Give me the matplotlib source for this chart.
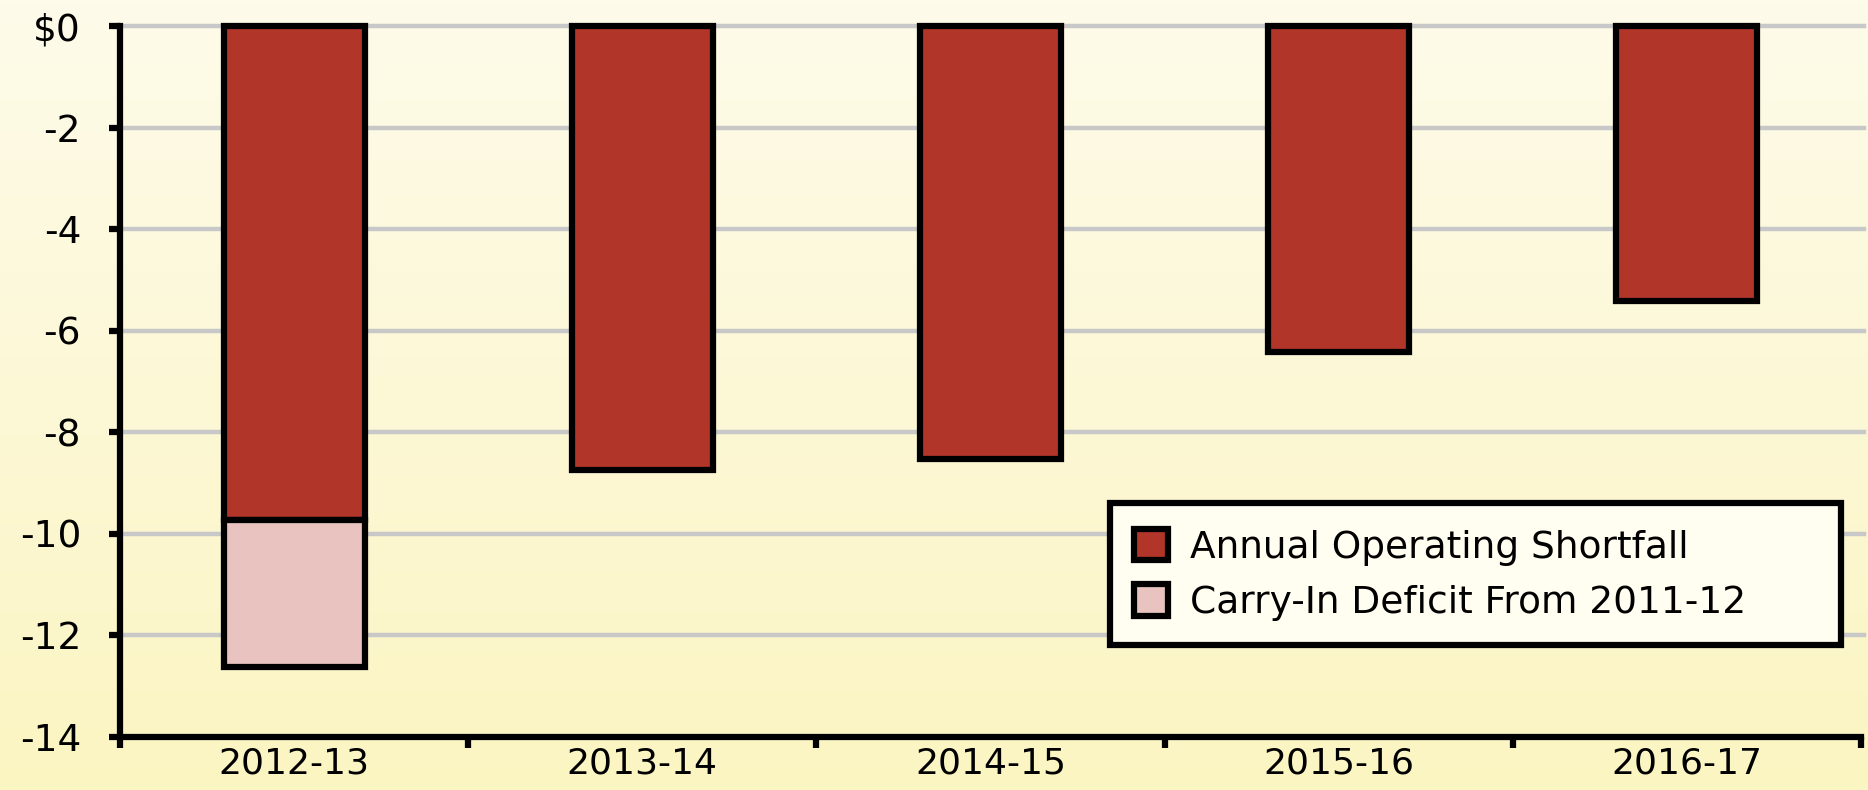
import matplotlib
matplotlib.use("Agg")
import matplotlib.pyplot as plt
import numpy as np
from matplotlib.patches import Rectangle, Patch

categories = ["2012-13", "2013-14", "2014-15", "2015-16", "2016-17"]
annual_shortfall = [-9.72, -8.75, -8.52, -6.42, -5.41]
carry_in = [-2.9, 0, 0, 0, 0]
ytick_vals = [0, -2, -4, -6, -8, -10, -12, -14]
ytick_labels = ["\\$0", "-2", "-4", "-6", "-8", "-10", "-12", "-14"]
legend_labels = ["Annual Operating Shortfall", "Carry-In Deficit From 2011-12"]

W, H = 1868, 790
DPI = 100
fig = plt.figure(figsize=(W / DPI, H / DPI), dpi=DPI)
plt.rcParams['font.family'] = ['DejaVu Sans']

# background gradient
bg = fig.add_axes([0, 0, 1, 1], zorder=-10)
top = np.array([0xFE, 0xFB, 0xEA]) / 255
bot = np.array([0xFB, 0xF5, 0xC2]) / 255
t = np.linspace(0, 1, 256)[:, None]
grad = top[None, :] * (1 - t) + bot[None, :] * t
bg.imshow(grad[:, None, :], aspect='auto', extent=[0, 1, 0, 1])
bg.axis('off')

left, right, ytop, ybot = 120, 1861, 26, 737
ax = fig.add_axes([left / W, 1 - ybot / H, (right - left) / W, (ybot - ytop) / H])
ax.patch.set_alpha(0)

dark = "#B2352A"
pink = "#E8C3C0"
lw = 4.5
fs = 27
x = np.arange(len(categories))
bw = 0.405
ax.bar(x, annual_shortfall, width=bw, color=dark, edgecolor="black",
       linewidth=lw, zorder=3, clip_on=False)
ax.bar(x[:1], carry_in[:1], bottom=annual_shortfall[:1], width=bw, color=pink,
       edgecolor="black", linewidth=lw, zorder=3, clip_on=False)

ax.set_xlim(-0.5, len(categories) - 0.5)
ax.set_ylim(-14, 0)
ax.set_yticks(ytick_vals)
ax.set_yticklabels(ytick_labels)
ax.set_xticks(np.arange(-0.5, len(categories), 1.0))
ax.set_xticklabels([])
ax.set_xticks(x, minor=True)
ax.set_xticklabels(categories, minor=True)
ax.tick_params(axis='x', which='major', direction='out', length=8, width=lw, color='black')
ax.tick_params(axis='x', which='minor', length=0, pad=7, labelsize=26)
ax.tick_params(axis='y', direction='out', length=8, width=lw, pad=20, labelsize=fs)
for s in ['top', 'right']:
    ax.spines[s].set_visible(False)
for s in ['left', 'bottom']:
    ax.spines[s].set_linewidth(lw)
    ax.spines[s].set_color('black')
    ax.spines[s].set_zorder(5)

for yv in ytick_vals[:-1]:
    ax.plot([-0.5, 4.51], [yv, yv], color="#C8C8C8", lw=3.2, zorder=1, clip_on=False)

# legend frame
lx0, ly0, lx1, ly1 = 1110, 503, 1841, 645
rect = Rectangle((lx0 / W, 1 - ly1 / H), (lx1 - lx0) / W, (ly1 - ly0) / H,
                 transform=fig.transFigure, facecolor="#FFFEF0", edgecolor="black",
                 linewidth=lw, zorder=10)
fig.patches.append(rect)
handles = [Patch(facecolor=dark, edgecolor='black', linewidth=lw),
           Patch(facecolor=pink, edgecolor='black', linewidth=lw)]
leg = fig.legend(handles, legend_labels, loc='center left',
                 bbox_to_anchor=(1134 / W, 1 - 575 / H), frameon=False,
                 fontsize=fs, handlelength=0.9, handleheight=0.9,
                 handletextpad=0.6, labelspacing=0.5, borderpad=0, borderaxespad=0)
leg.set_zorder(11)

fig.savefig("out.png", dpi=DPI)
